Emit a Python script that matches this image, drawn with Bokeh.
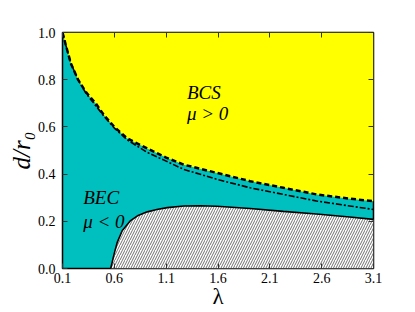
from bokeh.plotting import figure
from bokeh.models import LinearAxis, FixedTicker, Range1d
from bokeh.core.properties import value
from bokeh.embed import file_html
from bokeh.resources import INLINE

# BCS / BEC boundary (dashed)
lam_bcs = [0.1, 0.13, 0.18, 0.25, 0.33, 0.42, 0.50, 0.60, 0.725, 0.917, 1.1, 1.27, 1.59, 1.91, 2.23, 2.55, 2.87, 3.1]
d_bcs = [1.0, 0.95, 0.87, 0.80, 0.745, 0.70, 0.65, 0.60, 0.551, 0.509, 0.47, 0.44, 0.405, 0.37, 0.342, 0.314, 0.296, 0.285]

# second boundary (dash-dot)
lam_dd = [0.1, 0.13, 0.18, 0.25, 0.33, 0.42, 0.50, 0.60, 0.725, 0.917, 1.1, 1.27, 1.59, 1.91, 2.23, 2.55, 2.87, 3.1]
d_dd = [1.0, 0.95, 0.87, 0.80, 0.74, 0.69, 0.645, 0.595, 0.545, 0.492, 0.455, 0.42, 0.378, 0.342, 0.314, 0.286, 0.265, 0.25]

# forbidden (hatched) region boundary
lam_sol = [0.565, 0.6, 0.629, 0.677, 0.757, 0.83, 0.917, 1.01, 1.11, 1.27, 1.43, 1.59, 1.91, 2.23, 2.55, 2.87, 3.1]
d_sol = [0.0, 0.065, 0.112, 0.161, 0.203, 0.225, 0.24, 0.25, 0.258, 0.265, 0.266, 0.264, 0.254, 0.242, 0.231, 0.218, 0.208]

x_ticks = [0.1, 0.6, 1.1, 1.6, 2.1, 2.6, 3.1]
y_ticks = [0.0, 0.2, 0.4, 0.6, 0.8, 1.0]

labels_bcs = ["BCS", "μ > 0"]
labels_bec = ["BEC", "μ < 0"]
lab_bcs_x = [1.30, 1.30]
lab_bcs_y = [0.745, 0.655]
lab_bec_x = [0.30, 0.30]
lab_bec_y = [0.30, 0.20]

XMIN, XMAX = 0.1, 3.1
YMIN, YMAX = 0.0, 1.0
FONT = "'Liberation Serif', 'Times New Roman', serif"

p = figure(width=412, height=311, output_backend="svg", toolbar_location=None,
           x_range=Range1d(XMIN, XMAX), y_range=Range1d(YMIN, YMAX),
           min_border_left=62, min_border_top=32, min_border_right=39, min_border_bottom=41,
           x_axis_label="λ", y_axis_label="d/r₀")
p.background_fill_color = "#00BFBF"
p.border_fill_color = "white"
p.grid.visible = False
p.outline_line_color = "black"
p.outline_line_width = 1.5

# yellow BCS region above dashed curve
p.patch(lam_bcs + [XMAX, XMIN], d_bcs + [YMAX, YMAX], fill_color="#FFFF00", line_color=None)
# hatched region below the solid curve
p.patch(lam_sol + [XMAX], d_sol + [YMIN], fill_color="white", line_color=None,
        hatch_pattern="right_diagonal_line", hatch_color="#333333", hatch_scale=5, hatch_weight=0.7)

p.line(lam_bcs, d_bcs, line_color="black", line_width=2.5, line_dash="5 3")
p.line(lam_dd, d_dd, line_color="black", line_width=1.6, line_dash="6 2 2 2")
p.line(lam_sol, d_sol, line_color="black", line_width=1.6)

serif = value(FONT)
p.text(lab_bcs_x, lab_bcs_y, text=labels_bcs, text_font=serif, text_font_style="italic",
       text_font_size="19px", text_color="black", text_baseline="alphabetic")
p.text(lab_bec_x, lab_bec_y, text=labels_bec, text_font=serif, text_font_style="italic",
       text_font_size="19px", text_color="black", text_baseline="alphabetic")

for ax in (p.xaxis[0], p.yaxis[0]):
    ax.major_tick_in = 5
    ax.major_tick_out = 0
    ax.minor_tick_in = 0
    ax.minor_tick_out = 0
    ax.major_label_text_font = "Liberation Serif"
    ax.major_label_text_font_size = "14px"
    ax.major_label_text_color = "black"
    ax.axis_label_text_font = "Liberation Serif"
    ax.axis_label_text_color = "black"
    ax.axis_line_color = None
    ax.major_tick_line_color = "#333333"

p.xaxis[0].ticker = FixedTicker(ticks=x_ticks)
p.yaxis[0].ticker = FixedTicker(ticks=y_ticks)
p.xaxis[0].major_label_overrides = {t: f"{t:.1f}" for t in x_ticks}
p.yaxis[0].major_label_overrides = {t: f"{t:.1f}" for t in y_ticks}
p.xaxis[0].major_label_standoff = 4
p.yaxis[0].major_label_standoff = 7
p.xaxis[0].axis_label_text_font_size = "23px"
p.xaxis[0].axis_label_text_font_style = "normal"
p.xaxis[0].axis_label_standoff = -2
p.yaxis[0].axis_label_text_font_size = "25px"
p.yaxis[0].axis_label_text_font_style = "italic"
p.yaxis[0].axis_label_standoff = 0

# mirrored inside ticks on top and right (no labels)
top = LinearAxis(ticker=FixedTicker(ticks=x_ticks), major_label_overrides={t: "" for t in x_ticks},
                 major_tick_in=5, major_tick_out=0, minor_tick_in=0, minor_tick_out=0,
                 axis_line_color=None, major_tick_line_color="#333333", major_label_standoff=0)
right = LinearAxis(ticker=FixedTicker(ticks=y_ticks), major_label_overrides={t: "" for t in y_ticks},
                   major_tick_in=5, major_tick_out=0, minor_tick_in=0, minor_tick_out=0,
                   axis_line_color=None, major_tick_line_color="#333333", major_label_standoff=0)
p.add_layout(top, "above")
p.add_layout(right, "right")

open("out.html", "w").write(file_html(p, INLINE))
